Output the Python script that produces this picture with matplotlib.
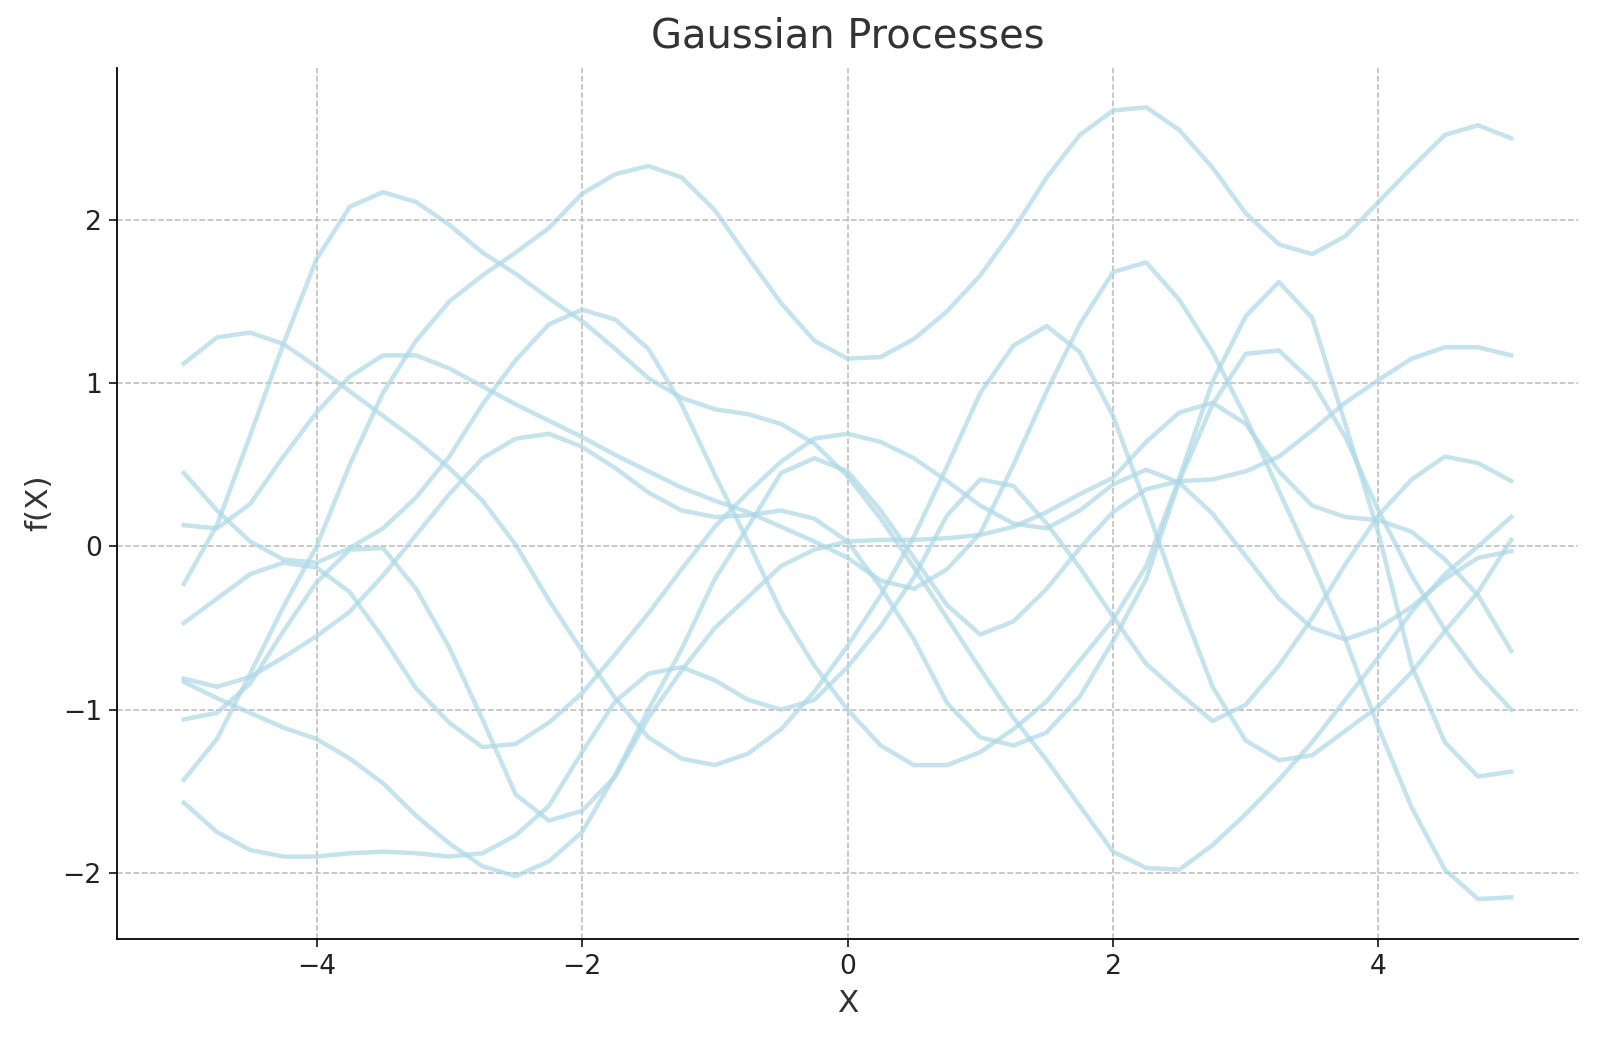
import matplotlib
matplotlib.use("Agg")
import matplotlib.pyplot as plt

# puntos de muestreo en X
xs = [-5.0, -4.75, -4.5, -4.25, -4.0, -3.75, -3.5, -3.25, -3.0, -2.75,
      -2.5, -2.25, -2.0, -1.75, -1.5, -1.25, -1.0, -0.75, -0.5, -0.25,
      0.0, 0.25, 0.5, 0.75, 1.0, 1.25, 1.5, 1.75, 2.0, 2.25,
      2.5, 2.75, 3.0, 3.25, 3.5, 3.75, 4.0, 4.25, 4.5, 4.75, 5.0]

# muestras (una lista por curva)
m1 = [-1.43, -1.18, -0.78, -0.37, 0.00, 0.50, 0.94, 1.26, 1.50, 1.66,
      1.80, 1.95, 2.16, 2.28, 2.33, 2.26, 2.06, 1.77, 1.49, 1.26,
      1.15, 1.16, 1.27, 1.44, 1.66, 1.94, 2.26, 2.52, 2.67, 2.69,
      2.55, 2.32, 2.04, 1.85, 1.79, 1.90, 2.11, 2.32, 2.52, 2.58, 2.50]
m2 = [-0.23, 0.13, 0.68, 1.24, 1.76, 2.08, 2.17, 2.11, 1.97, 1.80,
      1.67, 1.52, 1.38, 1.21, 1.03, 0.91, 0.84, 0.81, 0.75, 0.63,
      0.43, 0.17, -0.13, -0.44, -0.75, -1.05, -1.31, -1.59, -1.87, -1.97,
      -1.98, -1.83, -1.64, -1.43, -1.20, -0.94, -0.68, -0.40, -0.17, 0.00, 0.18]
m3 = [1.12, 1.28, 1.31, 1.24, 1.10, 0.95, 0.80, 0.65, 0.48, 0.28,
      0.01, -0.33, -0.64, -0.93, -1.17, -1.30, -1.34, -1.27, -1.12, -0.89,
      -0.61, -0.30, 0.06, 0.49, 0.94, 1.23, 1.35, 1.19, 0.80, 0.25,
      -0.33, -0.86, -1.19, -1.31, -1.28, -1.13, -0.98, -0.77, -0.52, -0.28, 0.04]
m4 = [0.13, 0.11, 0.26, 0.55, 0.82, 1.04, 1.17, 1.17, 1.09, 0.98,
      0.87, 0.77, 0.67, 0.56, 0.46, 0.36, 0.28, 0.21, 0.12, 0.03,
      -0.07, -0.21, -0.26, -0.14, 0.08, 0.50, 0.95, 1.36, 1.68, 1.74,
      1.51, 1.19, 0.79, 0.34, -0.10, -0.57, -1.11, -1.60, -1.98, -2.16, -2.15]
m5 = [0.45, 0.22, 0.03, -0.08, -0.10, -0.01, 0.11, 0.30, 0.55, 0.87,
      1.14, 1.36, 1.45, 1.39, 1.21, 0.87, 0.44, 0.03, -0.40, -0.73,
      -1.00, -1.22, -1.34, -1.34, -1.26, -1.12, -0.95, -0.70, -0.45, -0.12,
      0.42, 1.01, 1.41, 1.62, 1.40, 0.75, 0.08, -0.73, -1.20, -1.41, -1.38]
m6 = [-0.47, -0.32, -0.17, -0.10, -0.13, -0.28, -0.56, -0.87, -1.08, -1.23,
      -1.21, -1.08, -0.90, -0.66, -0.41, -0.14, 0.12, 0.33, 0.52, 0.66,
      0.69, 0.64, 0.54, 0.40, 0.25, 0.14, 0.11, 0.22, 0.38, 0.47,
      0.39, 0.20, -0.06, -0.32, -0.50, -0.57, -0.50, -0.37, -0.20, -0.07, -0.03]
m7 = [-0.81, -0.86, -0.80, -0.68, -0.55, -0.40, -0.18, 0.07, 0.32, 0.54,
      0.66, 0.69, 0.61, 0.48, 0.33, 0.22, 0.18, 0.19, 0.22, 0.17,
      0.03, -0.25, -0.57, -0.96, -1.17, -1.22, -1.14, -0.92, -0.58, -0.20,
      0.40, 0.87, 1.18, 1.20, 1.01, 0.67, 0.22, -0.18, -0.51, -0.78, -1.00]
m8 = [-0.83, -0.93, -1.02, -1.11, -1.18, -1.30, -1.45, -1.65, -1.82, -1.96,
      -2.02, -1.93, -1.75, -1.40, -1.00, -0.63, -0.20, 0.12, 0.45, 0.54,
      0.46, 0.22, -0.07, -0.36, -0.54, -0.46, -0.26, -0.01, 0.21, 0.35,
      0.40, 0.41, 0.46, 0.55, 0.71, 0.88, 1.02, 1.15, 1.22, 1.22, 1.17]
m9 = [-1.06, -1.02, -0.84, -0.52, -0.22, -0.02, -0.01, -0.26, -0.62, -1.06,
      -1.52, -1.68, -1.62, -1.41, -1.05, -0.76, -0.50, -0.31, -0.12, -0.02,
      0.03, 0.04, 0.04, 0.05, 0.07, 0.12, 0.21, 0.32, 0.42, 0.64,
      0.82, 0.88, 0.75, 0.46, 0.25, 0.18, 0.16, 0.09, -0.08, -0.30, -0.64]
m10 = [-1.57, -1.75, -1.86, -1.90, -1.90, -1.88, -1.87, -1.88, -1.90, -1.88,
       -1.77, -1.59, -1.26, -0.95, -0.78, -0.74, -0.82, -0.94, -1.00, -0.94,
       -0.74, -0.49, -0.19, 0.19, 0.41, 0.37, 0.14, -0.13, -0.43, -0.72,
       -0.90, -1.07, -0.97, -0.73, -0.44, -0.11, 0.19, 0.41, 0.55, 0.51, 0.40]

muestras = [m1, m2, m3, m4, m5, m6, m7, m8, m9, m10]

fig = plt.figure(figsize=(10, 6.50625), dpi=160)
ax = fig.add_subplot(1, 1, 1)
for m in muestras:
    ax.plot(xs, m, color='lightblue', alpha=0.7, linewidth=2,
            solid_joinstyle='round')

ax.set_title('Gaussian Processes', fontsize=18, color='#333333', pad=9)
ax.set_xlabel('X', fontsize=14, color='#333333')
ax.set_ylabel('f(X)', fontsize=14, color='#333333')
ax.tick_params(labelsize=12, colors='#222222')
ax.set_xticks([-4, -2, 0, 2, 4])
ax.set_yticks([-2, -1, 0, 1, 2])
ax.grid(True, linestyle='--', color='#bbbbbb', linewidth=0.7)
ax.spines['top'].set_visible(False)
ax.spines['right'].set_visible(False)
plt.subplots_adjust(left=0.0734, right=0.986, top=0.935, bottom=0.0984)
plt.savefig('out.png')
